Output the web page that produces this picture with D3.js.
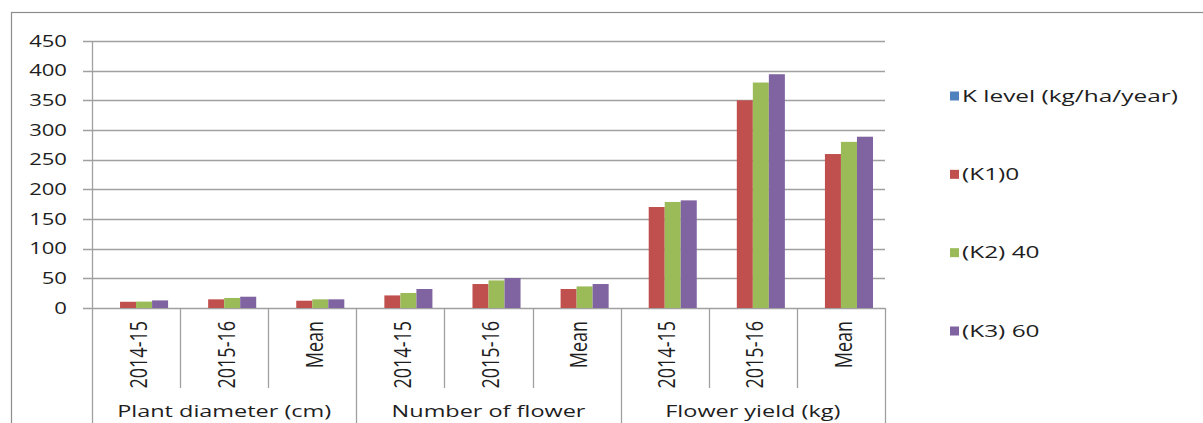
<!DOCTYPE html>
<html>
<head>
<meta charset="utf-8">
<script src="https://cdn.jsdelivr.net/npm/d3@7/dist/d3.min.js"></script>
<style>
  html, body { margin: 0; padding: 0; background: #fff; }
  svg { display: block; }
  text { font-family: "Open Sans", "DejaVu Sans", sans-serif; fill: #1e1e1e; }
</style>
</head>
<body>
<svg id="chart" width="1203" height="423"></svg>
<script>
// ---- data ----
const categories = ["2014-15", "2015-16", "Mean", "2014-15", "2015-16", "Mean", "2014-15", "2015-16", "Mean"];
const groups = ["Plant diameter (cm)", "Number of flower", "Flower yield (kg)"];
const seriesNames = ["K level (kg/ha/year)", "(K1)0", "(K2) 40", "(K3) 60"];
const kLevel = [null, null, null, null, null, null, null, null, null];
const k1 = [10.5, 14.6, 12.3, 21.2, 40.4, 32.0, 170.2, 350.0, 259.5];
const k2 = [10.8, 16.9, 14.6, 25.3, 46.5, 36.4, 178.7, 380.0, 280.0];
const k3 = [12.8, 19.0, 14.6, 32.0, 50.5, 40.4, 181.4, 394.0, 288.7];
const yTicks = [0, 50, 100, 150, 200, 250, 300, 350, 400, 450];
const colors = ["#4F81BD", "#C0504D", "#9BBB59", "#8064A2"];

const seriesData = [kLevel, k1, k2, k3];

// ---- layout ----
const svg = d3.select("#chart");
const plotLeft = 92, plotRight = 885, plotTop = 41, plotBase = 308;
const SX = 1.38; // horizontal stretch of text, as in the reference
const gridColor = "#a0a0a0";

// outer border
svg.append("rect").attr("x", 11.5).attr("y", 12.5).attr("width", 1200).attr("height", 440)
  .attr("fill", "none").attr("stroke", "#8c8c8c").attr("stroke-width", 1.2);

const y = d3.scaleLinear().domain([0, 450]).range([plotBase, plotTop]);
const x = d3.scaleBand().domain(d3.range(categories.length)).range([plotLeft, plotRight]).paddingInner(0).paddingOuter(0);
const xs = d3.scaleBand().domain(d3.range(seriesNames.length)).range([0, x.bandwidth()]).paddingInner(0).paddingOuter(0.75);

// gridlines
svg.append("g").selectAll("line").data(yTicks).join("line")
  .attr("x1", plotLeft - 9).attr("x2", plotRight)
  .attr("y1", d => Math.round(y(d)) + 0.5).attr("y2", d => Math.round(y(d)) + 0.5)
  .attr("stroke", gridColor).attr("stroke-width", 1.3);

// y axis line
svg.append("line").attr("x1", plotLeft + 0.5).attr("x2", plotLeft + 0.5).attr("y1", plotTop).attr("y2", plotBase)
  .attr("stroke", gridColor).attr("stroke-width", 1.3);

// y tick labels
svg.append("g").selectAll("text").data(yTicks).join("text")
  .attr("text-anchor", "end")
  .attr("font-size", 16)
  .attr("transform", d => `translate(67,${y(d) + 5.7}) scale(${SX},1)`)
  .text(d => d);

// bars
const barG = svg.append("g");
seriesData.forEach((vals, si) => {
  barG.append("g").selectAll("rect")
    .data(vals.map((v, i) => ({ v, i })).filter(d => d.v != null))
    .join("rect")
    .attr("x", d => x(d.i) + xs(si))
    .attr("width", xs.bandwidth())
    .attr("y", d => y(d.v))
    .attr("height", d => y(0) - y(d.v))
    .attr("fill", colors[si]);
});

// category axis ticks: inner ticks short, group separators long
const edges = d3.range(categories.length + 1);
svg.append("g").selectAll("line").data(edges).join("line")
  .attr("x1", d => Math.round(plotLeft + d * x.step()) + 0.5)
  .attr("x2", d => Math.round(plotLeft + d * x.step()) + 0.5)
  .attr("y1", plotBase)
  .attr("y2", d => (d % 3 === 0 ? 440 : 388))
  .attr("stroke", gridColor).attr("stroke-width", 1.3);

// category labels (rotated)
svg.append("g").selectAll("text").data(categories).join("text")
  .attr("text-anchor", "end")
  .attr("font-size", 18)
  .attr("transform", (d, i) => `translate(${x(i) + x.bandwidth() / 2 + 2},321) rotate(-90) scale(1,1.33)`)
  .attr("dy", "0.36em")
  .text(d => d);

// group labels
svg.append("g").selectAll("text").data(groups).join("text")
  .attr("text-anchor", "middle")
  .attr("font-size", 17)
  .attr("transform", (d, i) => `translate(${plotLeft + (i * 3 + 1.5) * x.step()},417) scale(${SX},1)`)
  .text(d => d);

// legend
const legendY = d3.scalePoint().domain(d3.range(seriesNames.length)).range([96, 331]);
const lg = svg.append("g");
const legendTexts = [];
seriesNames.forEach((name, i) => {
  lg.append("rect").attr("x", 950).attr("y", legendY(i) - 4.5).attr("width", 9).attr("height", 9).attr("fill", colors[i]);
  legendTexts.push(lg.append("text").attr("font-size", 16.5).text(name));
});
// stretch legend text so the longest entry spans ~218px, as in the reference
const w0 = legendTexts[0].node().getComputedTextLength() || 150;
const ls = Math.min(1.6, 216 / w0);
legendTexts.forEach((t, i) => t.attr("transform", `translate(962,${legendY(i) + 5.8}) scale(${ls},1)`));
</script>
</body>
</html>
